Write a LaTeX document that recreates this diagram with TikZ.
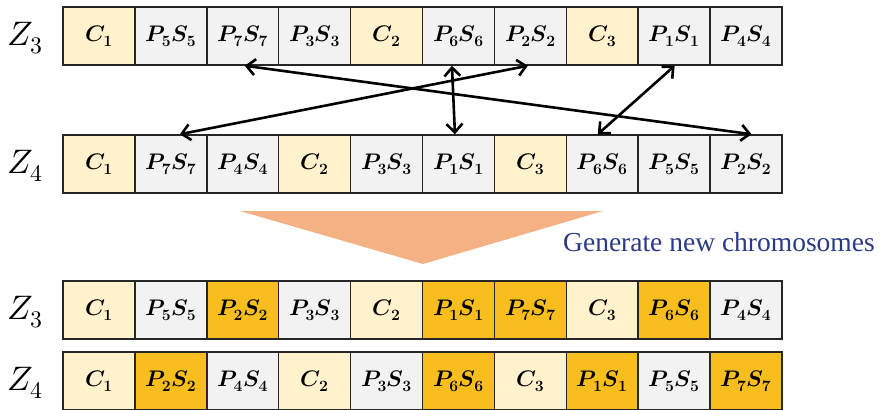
\documentclass[tikz,border=0pt]{standalone}
\usepackage{fontspec}
\usepackage{unicode-math}
\setmathfont{Latin Modern Math}
\newfontfamily\genfont{Liberation Serif}
\usetikzlibrary{arrows.meta}
\definecolor{cy}{HTML}{FFF2CC}
\definecolor{cg}{HTML}{F2F2F2}
\definecolor{co}{HTML}{F8BE1E}
\definecolor{bord}{HTML}{262626}
\definecolor{tri}{HTML}{F4B183}
\definecolor{gentext}{HTML}{2B3A86}
\newcommand{\myp}[1]{\mathbfit{P}_{\mathbf{#1}}\mathbfit{S}_{\mathbf{#1}}}
\newcommand{\myc}[1]{\mathbfit{C}_{\mathbf{#1}}}
\tikzset{
  cell/.style={draw=bord, line width=1.5pt, minimum width=71.9pt, minimum height=58pt, inner sep=0pt, font=\fontsize{22.5}{26}\selectfont},
  zlab/.style={font=\fontsize{34}{40}\selectfont},
  swap/.style={line width=2.6pt, {Straight Barb[length=8.5pt,width=16pt]}-{Straight Barb[length=8.5pt,width=16pt]}},
}
\begin{document}
\begin{tikzpicture}[x=1pt,y=-1pt]
\useasboundingbox (0,0) rectangle (887,410);
% row 1
\foreach \t/\n/\c [count=\i] in {c/1/cy,p/5/cg,p/7/cg,p/3/cg,c/2/cy,p/6/cg,p/2/cg,c/3/cy,p/1/cg,p/4/cg}
  \node[cell,fill=\c] (a\i) at ({63+71.9*(\i-0.5)},36) {$\csname my\t\endcsname{\n}$};
% row 2
\foreach \t/\n/\c [count=\i] in {c/1/cy,p/7/cg,p/4/cg,c/2/cy,p/3/cg,p/1/cg,c/3/cy,p/6/cg,p/5/cg,p/2/cg}
  \node[cell,fill=\c] (b\i) at ({63+71.9*(\i-0.5)},164) {$\csname my\t\endcsname{\n}$};
% row 3
\foreach \t/\n/\c [count=\i] in {c/1/cy,p/5/cg,p/2/co,p/3/cg,c/2/cy,p/1/co,p/7/co,c/3/cy,p/6/co,p/4/cg}
  \node[cell,fill=\c] (c\i) at ({63+71.9*(\i-0.5)},310) {$\csname my\t\endcsname{\n}$};
% row 4
\foreach \t/\n/\c [count=\i] in {c/1/cy,p/2/co,p/4/cg,c/2/cy,p/3/cg,p/6/co,c/3/cy,p/1/co,p/5/cg,p/7/co}
  \node[cell,fill=\c] (d\i) at ({63+71.9*(\i-0.5)},381) {$\csname my\t\endcsname{\n}$};
% labels
\node[zlab] (za) at (25,38) {$Z_3$};
\node[zlab] (zb) at (25,166) {$Z_4$};
\node[zlab] (zc) at (25,312) {$Z_3$};
\node[zlab] (zd) at (25,383) {$Z_4$};
% swap arrows
\draw[swap] ([xshift=2pt]a3.south) -- ([xshift=5.5pt]b10.north);
\draw[swap] ([xshift=-2.5pt]a7.south) -- ([xshift=9pt]b2.north);
\draw[swap] ([xshift=-6.5pt]a6.south) -- ([xshift=-3.5pt]b6.north);
\draw[swap] ([xshift=0.5pt]a9.south) -- ([xshift=-4.5pt]b8.north);
% generation triangle
\fill[tri] (240,211) -- (603,211) -- (423,264) -- cycle;
\node[font=\genfont\fontsize{27.5}{32}\selectfont, text=gentext, anchor=west, inner sep=0pt] (gen) at (563,242) {Generate new chromosomes};
\end{tikzpicture}
\end{document}
